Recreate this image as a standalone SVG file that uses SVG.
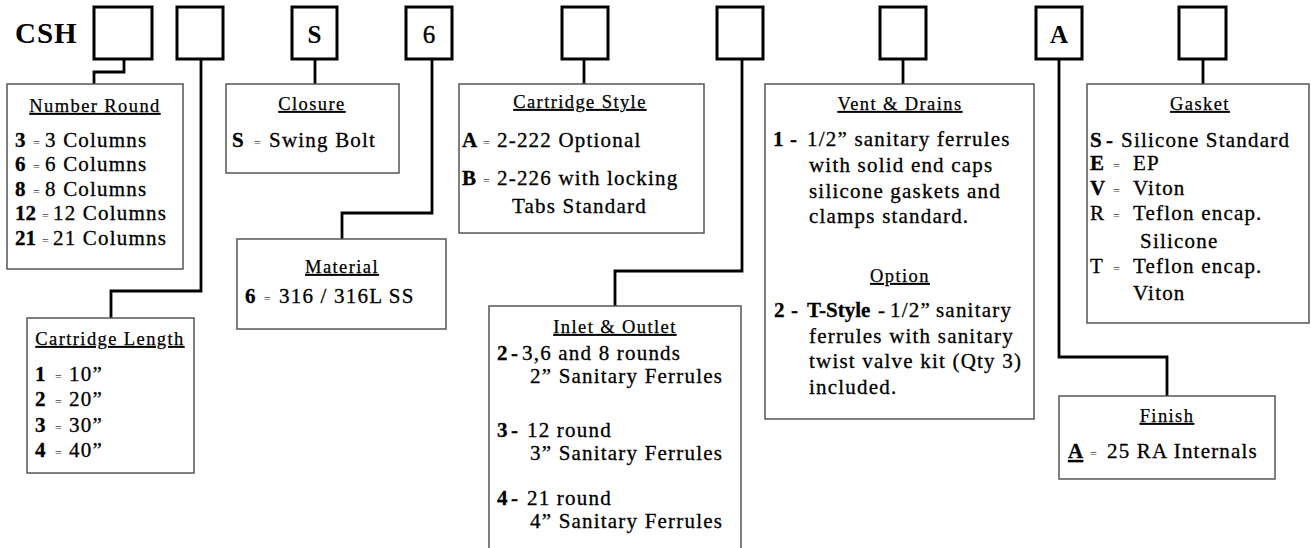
<svg xmlns="http://www.w3.org/2000/svg" width="1311" height="548" viewBox="0 0 1311 548">
<style>
text { font-family: "Liberation Serif", "Times New Roman", serif; fill:#000; }
.top { fill:#fff; stroke:#000; stroke-width:3; }
.box { fill:#fff; stroke:#555; stroke-width:1.5; }
.conn { fill:none; stroke:#000; stroke-width:2.8; }
.hd { font-size:18.5px; letter-spacing:1.4px; text-decoration:underline; text-anchor:middle; stroke:#000; stroke-width:0.25px; }
.t { font-size:21px; letter-spacing:1.2px; stroke:#000; stroke-width:0.3px; }
.b { font-weight:bold; letter-spacing:0; }
.eq { font-size:12px; fill:#444; stroke:none; letter-spacing:0; }
.big { font-size:25px; text-anchor:middle; }
</style>
<rect width="1311" height="548" fill="#fff"/>
<g id="connectors">
<path class="conn" d="M124,59 V72 H94 V84"/>
<path class="conn" d="M201,59 V291 H111 V318"/>
<path class="conn" d="M315,59 V84"/>
<path class="conn" d="M432,59 V213 H342 V239"/>
<path class="conn" d="M584,59 V84"/>
<path class="conn" d="M742,59 V271 H615 V306"/>
<path class="conn" d="M903,59 V84"/>
<path class="conn" d="M1059,59 V357 H1167 V396"/>
<path class="conn" d="M1203,59 V84"/>
</g>
<g id="code">
<text x="15" y="43" font-size="29" font-weight="bold" letter-spacing="1">CSH</text>
<g id="slot1"><rect class="top" x="94" y="7" width="58" height="52"/></g>
<g id="slot2"><rect class="top" x="177" y="7" width="46" height="52"/></g>
<g id="slot3"><rect class="top" x="292" y="7" width="45" height="52"/><text class="big" font-weight="bold" x="314.5" y="43">S</text></g>
<g id="slot4"><rect class="top" x="406" y="7" width="46" height="52"/><text class="big" x="429" y="43" stroke="#000" stroke-width="0.4">6</text></g>
<g id="slot5"><rect class="top" x="562" y="7" width="46" height="52"/></g>
<g id="slot6"><rect class="top" x="717" y="7" width="46" height="52"/></g>
<g id="slot7"><rect class="top" x="880" y="7" width="46" height="52"/></g>
<g id="slot8"><rect class="top" x="1036" y="7" width="46" height="52"/><text class="big" font-weight="bold" x="1059" y="43">A</text></g>
<g id="slot9"><rect class="top" x="1179" y="7" width="47" height="52"/></g>
</g>
<g id="number-round">
<rect class="box" x="7" y="84" width="176" height="185"/>
<text class="hd" x="95" y="112">Number Round</text>
<text class="t" y="147"><tspan class="b" x="15">3</tspan><tspan class="eq" x="33">=</tspan><tspan x="45">3 Columns</tspan></text>
<text class="t" y="171"><tspan class="b" x="15">6</tspan><tspan class="eq" x="33">=</tspan><tspan x="45">6 Columns</tspan></text>
<text class="t" y="196"><tspan class="b" x="15">8</tspan><tspan class="eq" x="33">=</tspan><tspan x="45">8 Columns</tspan></text>
<text class="t" y="220"><tspan class="b" x="15">12</tspan><tspan class="eq" x="42">=</tspan><tspan x="53">12 Columns</tspan></text>
<text class="t" y="245"><tspan class="b" x="15">21</tspan><tspan class="eq" x="42">=</tspan><tspan x="53">21 Columns</tspan></text>
</g>
<g id="closure">
<rect class="box" x="226" y="84" width="173" height="89"/>
<text class="hd" x="312" y="110">Closure</text>
<text class="t" y="147"><tspan class="b" x="232">S</tspan><tspan class="eq" x="254">=</tspan><tspan x="269">Swing Bolt</tspan></text>
</g>
<g id="material">
<rect class="box" x="237" y="239" width="209" height="90"/>
<text class="hd" x="342" y="273">Material</text>
<text class="t" y="303"><tspan class="b" x="245">6</tspan><tspan class="eq" x="264">=</tspan><tspan x="279">316 / 316L SS</tspan></text>
</g>
<g id="cartridge-length">
<rect class="box" x="27" y="318" width="167" height="155"/>
<text class="hd" x="110" y="345">Cartridge Length</text>
<text class="t" y="381"><tspan class="b" x="35">1</tspan><tspan class="eq" x="55">=</tspan><tspan x="69">10”</tspan></text>
<text class="t" y="406"><tspan class="b" x="35">2</tspan><tspan class="eq" x="55">=</tspan><tspan x="69">20”</tspan></text>
<text class="t" y="432"><tspan class="b" x="35">3</tspan><tspan class="eq" x="55">=</tspan><tspan x="69">30”</tspan></text>
<text class="t" y="457"><tspan class="b" x="35">4</tspan><tspan class="eq" x="55">=</tspan><tspan x="69">40”</tspan></text>
</g>
<g id="cartridge-style">
<rect class="box" x="459" y="84" width="245" height="149"/>
<text class="hd" x="580" y="108">Cartridge Style</text>
<text class="t" y="147"><tspan class="b" x="462">A</tspan><tspan class="eq" x="483">=</tspan><tspan x="497">2-222 Optional</tspan></text>
<text class="t" y="185"><tspan class="b" x="462">B</tspan><tspan class="eq" x="483">=</tspan><tspan x="497">2-226 with locking</tspan></text>
<text class="t" x="512" y="213">Tabs Standard</text>
</g>
<g id="inlet-outlet">
<rect class="box" x="489" y="306" width="252" height="260"/>
<text class="hd" x="615" y="333">Inlet &amp; Outlet</text>
<text class="t" y="360"><tspan class="b" x="497">2</tspan><tspan class="b" x="511">-</tspan><tspan x="522">3,6 and 8 rounds</tspan></text>
<text class="t" x="530" y="383">2” Sanitary Ferrules</text>
<text class="t" y="437"><tspan class="b" x="497">3</tspan><tspan class="b" x="511">-</tspan><tspan x="527">12 round</tspan></text>
<text class="t" x="530" y="460">3” Sanitary Ferrules</text>
<text class="t" y="505"><tspan class="b" x="497">4</tspan><tspan class="b" x="511">-</tspan><tspan x="527">21 round</tspan></text>
<text class="t" x="530" y="528">4” Sanitary Ferrules</text>
</g>
<g id="vent-drains">
<rect class="box" x="765" y="84" width="269" height="335"/>
<text class="hd" x="900" y="110">Vent &amp; Drains</text>
<text class="t" y="146"><tspan class="b" x="773">1</tspan><tspan class="b" x="790">-</tspan><tspan x="807">1/2” sanitary ferrules</tspan></text>
<text class="t" x="809" y="172">with solid end caps</text>
<text class="t" x="809" y="198">silicone gaskets and</text>
<text class="t" x="809" y="223">clamps standard.</text>
<text class="hd" x="900" y="282">Option</text>
<text class="t" y="317"><tspan class="b" x="774">2</tspan><tspan class="b" x="791">-</tspan><tspan class="b" x="807">T-Style</tspan><tspan x="878">-</tspan><tspan x="890">1/2”</tspan><tspan x="936">sanitary</tspan></text>
<text class="t" x="809" y="343">ferrules with sanitary</text>
<text class="t" x="809" y="368">twist valve kit (Qty 3)</text>
<text class="t" x="809" y="394">included.</text>
</g>
<g id="gasket">
<rect class="box" x="1087" y="84" width="222" height="239"/>
<text class="hd" x="1200" y="110">Gasket</text>
<text class="t" y="147"><tspan class="b" x="1090">S</tspan><tspan class="b" x="1106">-</tspan><tspan x="1121">Silicone Standard</tspan></text>
<text class="t" y="170"><tspan class="b" x="1090">E</tspan><tspan class="eq" x="1113">=</tspan><tspan x="1133">EP</tspan></text>
<text class="t" y="195"><tspan class="b" x="1090">V</tspan><tspan class="eq" x="1113">=</tspan><tspan x="1133">Viton</tspan></text>
<text class="t" y="220"><tspan x="1090">R</tspan><tspan class="eq" x="1113">=</tspan><tspan x="1133">Teflon encap.</tspan></text>
<text class="t" x="1140" y="248">Silicone</text>
<text class="t" y="273"><tspan x="1090">T</tspan><tspan class="eq" x="1113">=</tspan><tspan x="1133">Teflon encap.</tspan></text>
<text class="t" x="1133" y="300">Viton</text>
</g>
<g id="finish">
<rect class="box" x="1059" y="396" width="216" height="83"/>
<text class="hd" x="1167" y="422">Finish</text>
<text class="t" y="458"><tspan class="b" x="1068" text-decoration="underline">A</tspan><tspan class="eq" x="1090">=</tspan><tspan x="1107">25 RA Internals</tspan></text>
</g>
</svg>
